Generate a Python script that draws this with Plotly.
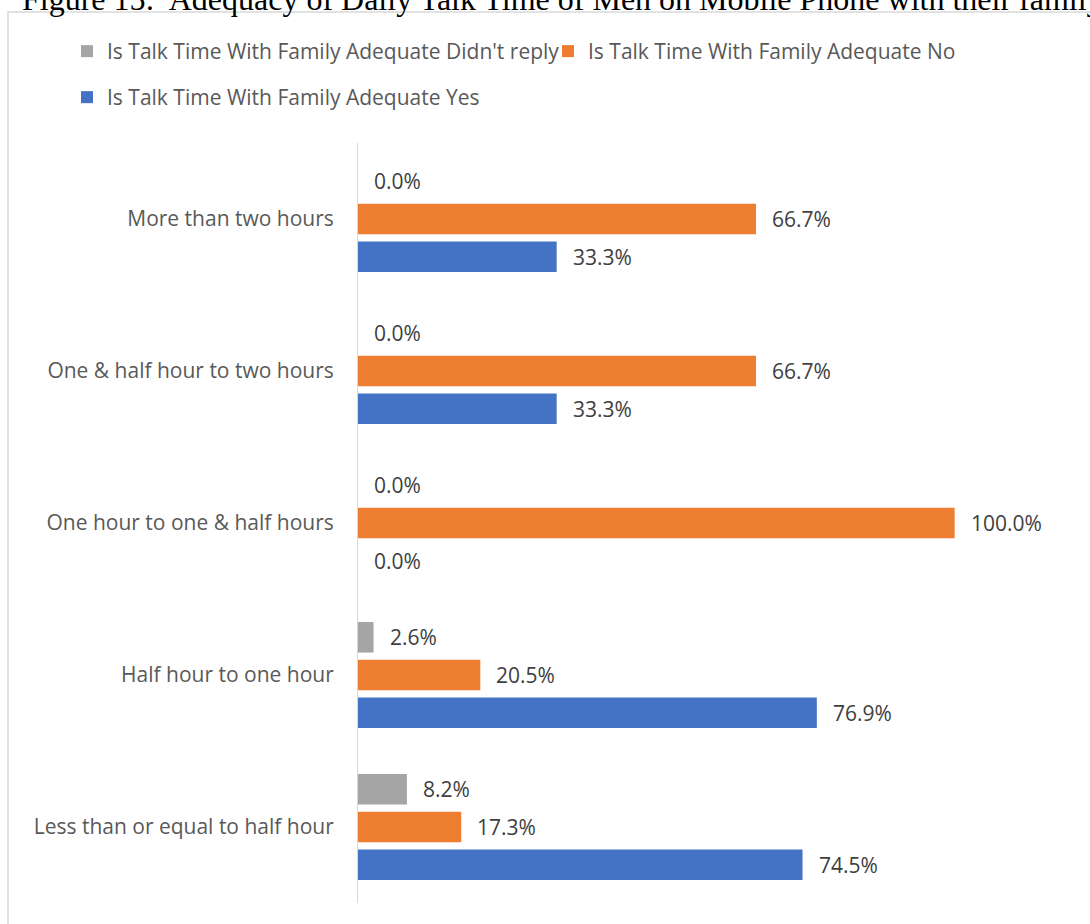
import plotly.graph_objects as go

# Talk-time categories, bottom to top
categories = [
    "Less than or equal to half hour",
    "Half hour to one hour",
    "One hour to one & half hours",
    "One & half hour to two hours",
    "More than two hours",
]
didnt_reply = [8.2, 2.6, 0.0, 0.0, 0.0]
no_vals = [17.3, 20.5, 100.0, 66.7, 66.7]
yes_vals = [74.5, 76.9, 0.0, 33.3, 33.3]

series = [
    ("Is Talk Time With Family Adequate Yes", yes_vals, "#4472C4", "legend2"),
    ("Is Talk Time With Family Adequate No", no_vals, "#ED7D31", "legend"),
    ("Is Talk Time With Family Adequate Didn't reply", didnt_reply, "#A5A5A5", "legend"),
]

W, H = 1090, 924
M_L, M_R, M_T, M_B = 358, 16, 143, 21
X_MAX = 120.0
BARGAP = 0.256
BARGROUPGAP = 0.19

plot_w = W - M_L - M_R
plot_h = H - M_T - M_B
cat_px = plot_h / len(categories)
slot_px = cat_px * (1 - BARGAP) / len(series)

FONT = "Open Sans, Liberation Sans, sans-serif"
FS = 21

fig = go.Figure()
annotations = []
for i, (name, vals, color, leg) in enumerate(series):
    fig.add_trace(go.Bar(
        name=name, y=categories, x=vals, orientation="h",
        marker=dict(color=color, line=dict(width=0)),
        legend=leg, hoverinfo="skip",
    ))
    shift = (i - (len(series) - 1) / 2) * slot_px
    for cat, v in zip(categories, vals):
        annotations.append(dict(
            x=v, y=cat, xref="x", yref="y", text=f"{v:.1f}%",
            showarrow=False, xanchor="left", yanchor="middle",
            xshift=14, yshift=shift,
            font=dict(family=FONT, size=FS, color="#404040"),
        ))


def px_x(p):
    return (p - M_L) / plot_w


def px_y(p):
    return (H - M_B - p) / plot_h


# figure caption, partly above the visible page
annotations.append(dict(
    x=px_x(20), y=px_y(-1), xref="paper", yref="paper",
    text="Figure 15:  Adequacy of Daily Talk Time of Men on Mobile Phone with their family",
    showarrow=False, xanchor="left", yanchor="middle",
    font=dict(family="Liberation Serif, Times New Roman, serif", size=32, color="#000000"),
))

fig.update_layout(
    width=W, height=H, autosize=False,
    margin=dict(l=M_L, r=M_R, t=M_T, b=M_B),
    paper_bgcolor="white", plot_bgcolor="white",
    barmode="group", bargap=BARGAP, bargroupgap=BARGROUPGAP,
    font=dict(family=FONT, size=FS, color="#595959"),
    xaxis=dict(range=[0, X_MAX], visible=False, fixedrange=True),
    yaxis=dict(
        categoryorder="array", categoryarray=categories,
        showline=True, linecolor="#D9D9D9", linewidth=1,
        showgrid=False, zeroline=False, ticks="",
        ticklabelstandoff=19,
        tickfont=dict(family=FONT, size=FS, color="#595959"),
        fixedrange=True,
    ),
    legend=dict(
        orientation="h", x=px_x(67), y=px_y(31), xanchor="left", yanchor="top",
        traceorder="reversed", itemclick=False, itemdoubleclick=False,
        entrywidth=436, entrywidthmode="pixels",
        font=dict(family=FONT, size=FS, color="#595959"),
        bgcolor="rgba(0,0,0,0)",
    ),
    legend2=dict(
        orientation="h", x=px_x(67), y=px_y(77), xanchor="left", yanchor="top",
        itemclick=False, itemdoubleclick=False,
        font=dict(family=FONT, size=FS, color="#595959"),
        bgcolor="rgba(0,0,0,0)",
    ),
    annotations=annotations,
    shapes=[dict(
        type="rect", xref="paper", yref="paper",
        x0=px_x(8), x1=px_x(W + 20), y0=px_y(H + 20), y1=px_y(12),
        line=dict(color="#D9D9D9", width=1.5), fillcolor="rgba(0,0,0,0)",
        layer="below",
    )],
    showlegend=True,
)

fig.write_html("out.html", config={"displayModeBar": False})
